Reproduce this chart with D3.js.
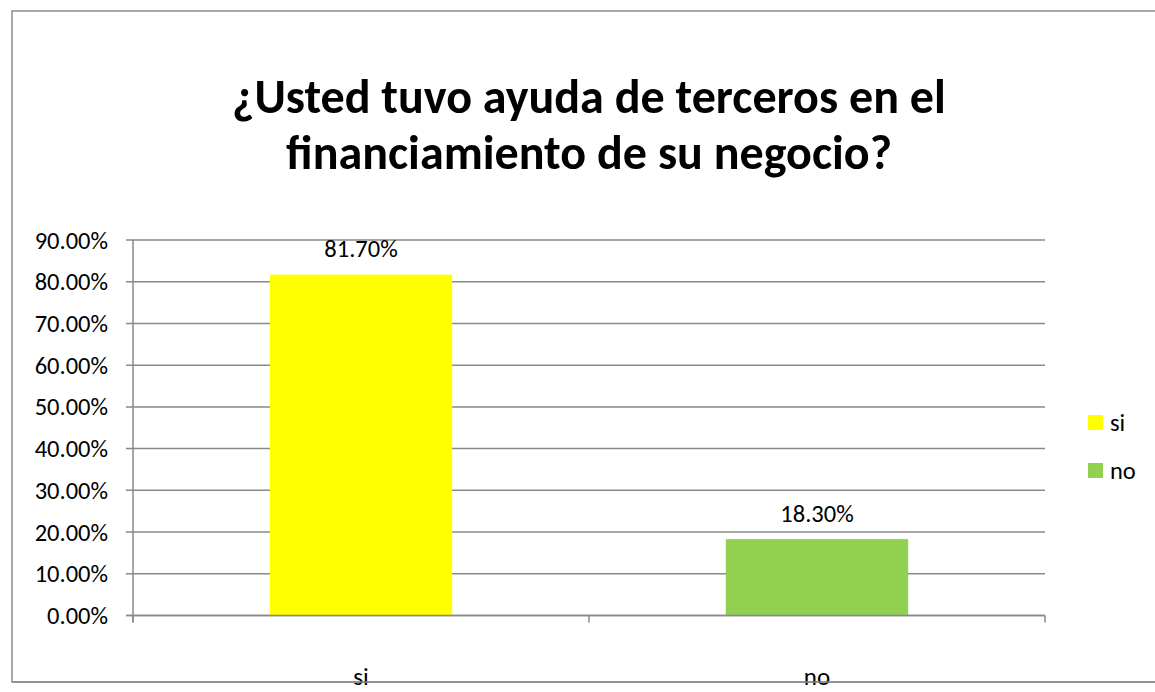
<!DOCTYPE html>
<html>
<head>
<meta charset="utf-8">
<script src="https://cdn.jsdelivr.net/npm/d3@7"></script>
<style>
  body { margin: 0; background: #fff; overflow: hidden; }
  svg text { font-family: Calibri, Carlito, "Open Sans", "Liberation Sans", sans-serif; fill: #000; }
</style>
</head>
<body>
<div id="chart"></div>
<script>
// data
var categories = ["si", "no"];
var values = [0.817, 0.183];
var colors = ["#ffff00", "#92d050"];
var yTicks = [0, 0.1, 0.2, 0.3, 0.4, 0.5, 0.6, 0.7, 0.8, 0.9];
var titleLines = ["¿Usted tuvo ayuda de terceros en el", "financiamiento de su negocio?"];

var width = 1155, height = 692;
var labelSize = "24.5px";

var svg = d3.select("#chart").append("svg")
    .attr("width", width)
    .attr("height", height);

// chart frame
svg.append("rect")
    .attr("x", 12).attr("y", 11)
    .attr("width", 1160).attr("height", 671)
    .attr("fill", "white")
    .attr("stroke", "#8c8c8c")
    .attr("stroke-width", 1.5);

var plot = { left: 133, right: 1045, top: 240, bottom: 615.5 };

var x = d3.scaleBand()
    .domain(categories)
    .range([plot.left, plot.right])
    .paddingInner(0)
    .paddingOuter(0);

var y = d3.scaleLinear()
    .domain([0, 0.9])
    .range([plot.bottom, plot.top]);

var gridColor = "#898989";

// gridlines
svg.append("g").selectAll("line")
    .data(yTicks)
  .enter().append("line")
    .attr("x1", plot.left - 7)
    .attr("x2", plot.right)
    .attr("y1", function(d) { return y(d); })
    .attr("y2", function(d) { return y(d); })
    .attr("stroke", gridColor)
    .attr("stroke-width", 1.5);

// y axis labels
svg.append("g").selectAll("text")
    .data(yTicks)
  .enter().append("text")
    .attr("x", 108)
    .attr("y", function(d) { return y(d); })
    .attr("dy", "0.35em")
    .attr("text-anchor", "end")
    .style("font-size", labelSize)
    .text(function(d) { return d3.format(".2%")(d); });

// bars
var bw = x.bandwidth() * 0.4;
svg.append("g").selectAll("rect")
    .data(values)
  .enter().append("rect")
    .attr("x", function(d, i) { return x(categories[i]) + (x.bandwidth() - bw) / 2; })
    .attr("y", function(d) { return y(d); })
    .attr("width", bw)
    .attr("height", function(d) { return y(0) - y(d); })
    .attr("fill", function(d, i) { return colors[i]; });

// axes lines
svg.append("line")
    .attr("x1", plot.left).attr("x2", plot.left)
    .attr("y1", plot.top).attr("y2", plot.bottom + 7)
    .attr("stroke", gridColor).attr("stroke-width", 1.5);
svg.append("line")
    .attr("x1", plot.left - 7).attr("x2", plot.right)
    .attr("y1", plot.bottom).attr("y2", plot.bottom)
    .attr("stroke", gridColor).attr("stroke-width", 1.5);

var bounds = categories.map(function(c) { return x(c); }).concat([plot.right]);
svg.append("g").selectAll("line")
    .data(bounds)
  .enter().append("line")
    .attr("x1", function(d) { return d; })
    .attr("x2", function(d) { return d; })
    .attr("y1", plot.bottom)
    .attr("y2", plot.bottom + 7)
    .attr("stroke", gridColor)
    .attr("stroke-width", 1.5);

// data labels
svg.append("g").selectAll("text")
    .data(values)
  .enter().append("text")
    .attr("x", function(d, i) { return x(categories[i]) + x.bandwidth() / 2; })
    .attr("y", function(d) { return y(d) - 26; })
    .attr("dy", "0.35em")
    .attr("text-anchor", "middle")
    .style("font-size", labelSize)
    .text(function(d) { return d; })
    .text(function(d) { return d3.format(".2%")(d); });

// category labels (sit under the frame line)
svg.append("g").selectAll("text")
    .data(categories)
  .enter().append("text")
    .attr("x", function(d) { return x(d) + x.bandwidth() / 2; })
    .attr("y", 685)
    .attr("text-anchor", "middle")
    .style("font-size", "25px")
    .text(function(d) { return d; });

// redraw bottom frame line over the labels
svg.append("line")
    .attr("x1", 12).attr("x2", width)
    .attr("y1", 682).attr("y2", 682)
    .attr("stroke", "#8c8c8c").attr("stroke-width", 1.5);

// title
var title = svg.append("g");
title.selectAll("text")
    .data(titleLines)
  .enter().append("text")
    .attr("x", 589)
    .attr("y", function(d, i) { return 113 + i * 56; })
    .attr("text-anchor", "middle")
    .style("font-size", "40px")
    .style("font-weight", "bold")
    .text(function(d) { return d; })
    .each(function(d, i) {
      // fit first line to ~714px like the reference
      if (i == 0) {
        var w = this.getComputedTextLength();
        var fs = 40 * 714 / w;
        title.selectAll("text").style("font-size", fs + "px");
      }
    });

// legend
var legend = svg.append("g").selectAll("g")
    .data(categories)
  .enter().append("g")
    .attr("transform", function(d, i) { return "translate(1088," + (422 + i * 48) + ")"; });

legend.append("rect")
    .attr("x", 0).attr("y", -7)
    .attr("width", 15).attr("height", 15)
    .attr("fill", function(d, i) { return colors[i]; });

legend.append("text")
    .attr("x", 22)
    .attr("y", 0)
    .attr("dy", "0.35em")
    .style("font-size", labelSize)
    .text(function(d) { return d; });
</script>
</body>
</html>
